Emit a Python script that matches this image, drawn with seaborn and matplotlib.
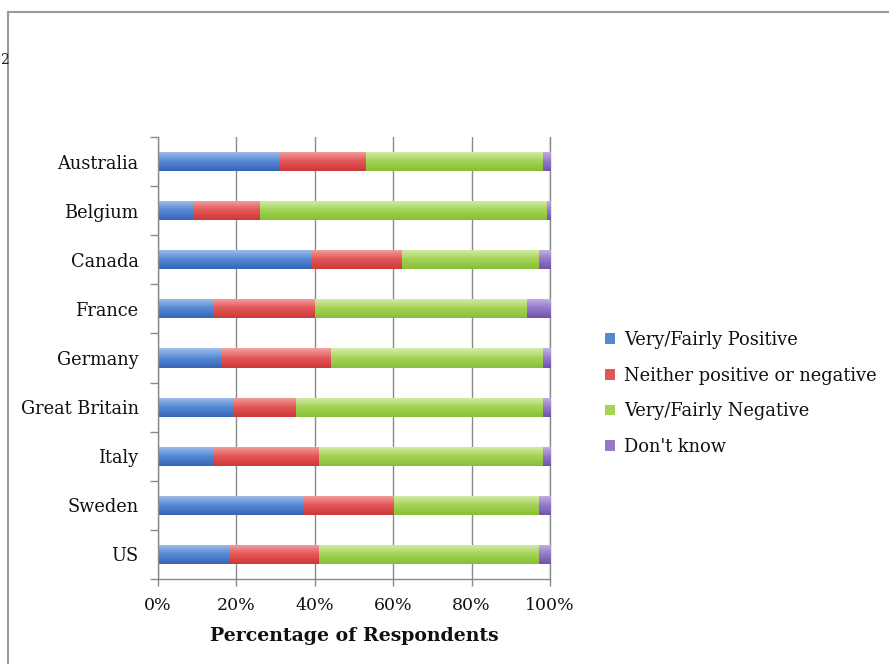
import numpy as np
import pandas as pd
import matplotlib
matplotlib.use("Agg")
import matplotlib.pyplot as plt
from matplotlib.colors import to_rgb
from matplotlib.patches import Patch
from matplotlib.lines import Line2D
import seaborn as sns

countries = ["Australia", "Belgium", "Canada", "France", "Germany",
             "Great Britain", "Italy", "Sweden", "US"]
positive = [31, 9, 39, 14, 16, 19, 14, 37, 18]
neither = [22, 17, 23, 26, 28, 16, 27, 23, 23]
negative = [45, 73, 35, 54, 54, 63, 57, 37, 56]
dont_know = [2, 1, 3, 6, 2, 2, 2, 3, 3]

series_names = ["Very/Fairly Positive", "Neither positive or negative",
                "Very/Fairly Negative", "Don't know"]
xticks = [0, 20, 40, 60, 80, 100]

# (top, middle, bottom) shades for the glossy bar fill
shades = {
    "Very/Fairly Positive": ("#a3c1ec", "#5589d4", "#3566b6"),
    "Neither positive or negative": ("#f4a3a3", "#e45656", "#cc3838"),
    "Very/Fairly Negative": ("#d8edae", "#a4d356", "#86bf36"),
    "Don't know": ("#c5b3e4", "#9579c8", "#7252ac"),
}

df = pd.DataFrame({"country": countries, "pos": positive, "nei": neither,
                   "neg": negative, "dk": dont_know})
df["c1"] = df["pos"]
df["c2"] = df["c1"] + df["nei"]
df["c3"] = df["c2"] + df["neg"]
df["c4"] = df["c3"] + df["dk"]

sns.set_theme(style="white")
plt.rcParams["font.family"] = ["DejaVu Serif"]

fig = plt.figure(figsize=(8.89, 6.64), dpi=100)
ax = fig.add_axes([0.1777, 0.128, 0.4410, 0.6657])

bar_h = 0.39
layers = [("c4", "Don't know"), ("c3", "Very/Fairly Negative"),
          ("c2", "Neither positive or negative"), ("c1", "Very/Fairly Positive")]


def gradient_img(cols, n=64):
    top, mid, bot = [np.array(to_rgb(c)) for c in cols]
    t = np.linspace(0, 1, n)[:, None]
    first = top + (mid - top) * np.clip(t * 2, 0, 1)
    second = mid + (bot - mid) * np.clip(t * 2 - 1, 0, 1)
    img = np.where(t < 0.5, first, second)
    return img[:, None, :]


for z, (col, name) in enumerate(layers):
    before = len(ax.patches)
    sns.barplot(data=df, y="country", x=col, orient="h", color=shades[name][1],
                width=bar_h, ax=ax, errorbar=None, zorder=3 + z * 2,
                linewidth=0, saturation=1)
    img = gradient_img(shades[name])
    for p in ax.patches[before:]:
        x0, y0 = p.get_x(), p.get_y()
        w, h = p.get_width(), p.get_height()
        im = ax.imshow(img, extent=(x0, x0 + w, y0 + h, y0), origin="upper",
                       aspect="auto", interpolation="bilinear",
                       zorder=3 + z * 2 + 1)
        im.set_clip_path(p)

ax.set_xlim(0, 100)
ax.set_ylim(len(countries) - 0.5, -0.5)
ax.set_xticks(xticks)
ax.set_xticklabels([f"{v}%" for v in xticks], fontsize=12.5)
ax.set_yticks(range(len(countries)))
ax.set_yticklabels(countries, fontsize=12.8)
ax.set_yticks(np.arange(-0.5, len(countries), 1), minor=True)
ax.tick_params(axis="y", which="major", length=0, pad=14, colors="#111111")
ax.tick_params(axis="y", which="minor", length=6, width=1, color="#8a8a8a", left=True)
ax.tick_params(axis="x", which="major", length=5, width=1, pad=8,
               colors="#111111", bottom=True)
ax.tick_params(axis="x", which="major", color="#8a8a8a")
ax.set_ylabel("")
ax.set_xlabel("Percentage of Respondents", fontsize=13.6, fontweight="bold",
              color="#111111", labelpad=9)

ax.grid(axis="x", color="#8a8a8a", linewidth=1)
ax.axvline(100, color="#8a8a8a", linewidth=1, zorder=1, clip_on=False)
ax.set_axisbelow(True)
for s in ["top", "right"]:
    ax.spines[s].set_visible(False)
for s in ["left", "bottom"]:
    ax.spines[s].set_color("#8a8a8a")
    ax.spines[s].set_linewidth(1)
    ax.spines[s].set_zorder(20)

handles = [Patch(facecolor=shades[n][1], edgecolor="none") for n in series_names]
leg = fig.legend(handles, series_names, loc="upper left",
                 bbox_to_anchor=(0.673, 0.512), frameon=False,
                 fontsize=12.9, handlelength=0.55, handleheight=0.55,
                 handletextpad=0.5, labelspacing=0.98, borderaxespad=0)
for t in leg.get_texts():
    t.set_color("#111111")

# page frame
fig.add_artist(Line2D([0.009, 1.0], [0.982, 0.982], transform=fig.transFigure,
                      color="#9a9a9a", linewidth=1.5))
fig.add_artist(Line2D([0.009, 0.009], [0.0, 0.982], transform=fig.transFigure,
                      color="#9a9a9a", linewidth=1.5))
fig.text(0.0005, 0.91, "2", fontsize=10, ha="left", va="center", color="#222222")

fig.savefig("out.png", dpi=100)
